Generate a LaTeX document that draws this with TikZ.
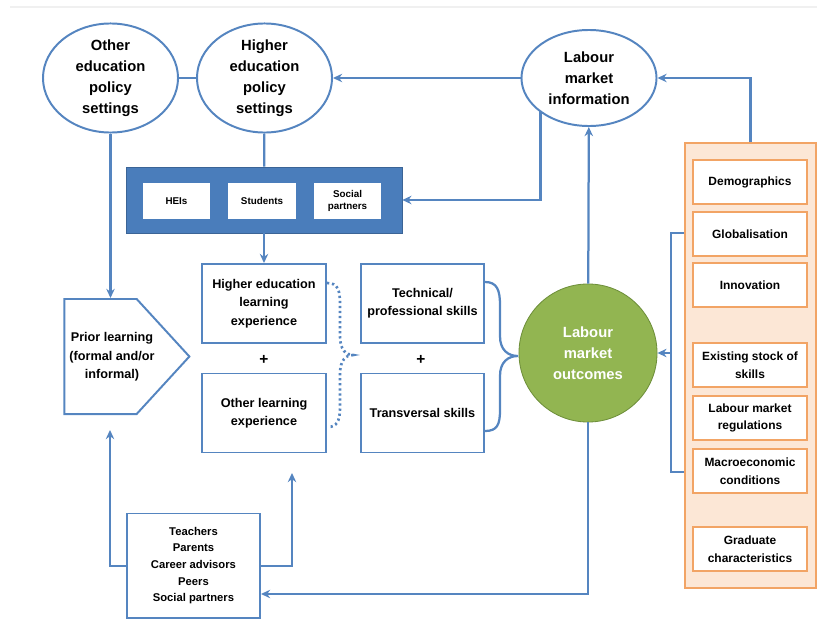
\documentclass[tikz,border=0pt]{standalone}
\usepackage{fontspec}
\setmainfont{Liberation Sans}
\usetikzlibrary{arrows.meta,shapes.geometric,shapes.symbols}

\definecolor{lineblue}{HTML}{5585C0}
\definecolor{boxblue}{HTML}{4A7DBB}
\definecolor{outgreen}{HTML}{92B551}
\definecolor{greenrim}{HTML}{6E8F3A}
\definecolor{rimorange}{HTML}{F2A465}
\definecolor{peach}{HTML}{FCE7D6}

\tikzset{
  policy/.style={ellipse, draw=lineblue, line width=1.4pt, fill=white, minimum width=3.375cm, minimum height=2.4cm, inner sep=0pt, align=center, font=\bfseries\fontsize{10.5}{15}\selectfont},
  learnbox/.style={rectangle, draw=lineblue, line width=1.4pt, fill=white, minimum width=3.1cm, minimum height=1.975cm, align=center, font=\bfseries\fontsize{9}{13}\selectfont},
  actor/.style={rectangle, fill=white, minimum width=1.675cm, minimum height=0.9cm, align=center, font=\bfseries\fontsize{7}{8.5}\selectfont},
  factor/.style={rectangle, draw=rimorange, line width=1.4pt, fill=white, minimum width=2.85cm, minimum height=1.1cm, inner sep=1pt, align=center, font=\bfseries\fontsize{8.5}{12.5}\selectfont},
  link/.style={draw=lineblue, line width=1.6pt},
  flow/.style={link, -{Stealth[length=6.5pt,width=6pt]}},
  plus/.style={font=\bfseries\fontsize{11}{13}\selectfont}
}

\begin{document}
\begin{tikzpicture}[x=0.025cm, y=-0.025cm]
  \useasboundingbox (0,0) rectangle (817,619);
  \draw[black!6, line width=0.8pt] (10,7) -- (817,7);

  % policy settings and information
  \node[policy] (otherpol) at (110.5,78) {Other\\education\\policy\\settings};
  \node[policy] (hepol) at (264.5,78) {Higher\\education\\policy\\settings};
  \node[policy] (lmi) at (589,78) {Labour\\market\\information};

  % actors
  \node[rectangle, fill=boxblue, draw=boxblue!80!black, minimum width=6.9cm, minimum height=1.65cm] (actors) at (264,200) {};
  \node[actor] (heis) at (176.5,201) {HEIs};
  \node[actor] (students) at (262,201) {Students};
  \node[actor] (social) at (347.5,201) {Social\\partners};

  % prior learning
  \node[signal, signal to=east, signal pointer angle=95, draw=lineblue, line width=1.4pt, minimum width=3.125cm, minimum height=2.875cm] (prior) at (100.5,356.5) {};
  \node[font=\bfseries\fontsize{9}{13}\selectfont, align=center] (priortext) at (112,357) {Prior learning\\(formal and/or\\informal)};

  % learning experience
  \node[learnbox] (helearn) at (264,303.5) {Higher education\\learning\\experience};
  \node[plus] (plusa) at (264,360) {+};
  \node[learnbox] (otherlearn) at (264,413) {Other learning\\experience};

  % skills
  \node[learnbox, minimum width=3.075cm] (technical) at (422.5,303.5) {Technical/\\professional skills};
  \node[plus] (plusb) at (421,360) {+};
  \node[learnbox, minimum width=3.075cm] (transversal) at (422.5,413) {Transversal skills};

  % outcomes
  \node[circle, fill=outgreen, draw=greenrim, line width=0.6pt, minimum size=3.45cm, text=white, align=center, font=\bfseries\fontsize{10.5}{15}\selectfont] (outcomes) at (588,353) {Labour\\market\\outcomes};

  % contextual factors
  \node[rectangle, fill=peach, draw=rimorange, line width=1.4pt, minimum width=3.275cm, minimum height=11.125cm] (context) at (750.5,365.5) {};
  \node[factor] (demo) at (750,182) {Demographics};
  \node[factor] (glob) at (750,234) {Globalisation};
  \node[factor] (innov) at (750,285) {Innovation};
  \node[factor] (stock) at (750,365) {Existing stock of\\skills};
  \node[factor] (regul) at (750,418) {Labour market\\regulations};
  \node[factor] (macro) at (750,471) {Macroeconomic\\conditions};
  \node[factor] (grad) at (750,549) {Graduate\\characteristics};

  % influencers
  \node[rectangle, draw=lineblue, line width=1.4pt, fill=white, minimum width=3.325cm, minimum height=2.6cm, align=center, font=\bfseries\fontsize{8}{11.8}\selectfont] (influence) at (193.5,565.5) {Teachers\\Parents\\Career advisors\\Peers\\Social partners};

  % connectors
  \draw[link] (otherpol) -- (hepol);
  \draw[flow] (lmi) -- (hepol);
  \draw[flow] (context.north) |- (lmi.east);
  \draw[flow] (lmi.south west) ++(0,-2) |- (actors.east);
  \draw[flow] (outcomes) -- (lmi);
  \draw[link] (hepol) -- (actors);
  \draw[flow] (actors) -- (helearn);
  \draw[flow] (otherpol.south) -- (prior.north -| otherpol.south);

  % braces
  \draw[link, dotted, line width=1.9pt] (327,283) .. controls (338,283) and (340,290) .. (340,305) -- (340,336)
    .. controls (340,350) and (346,355) .. (353,355) .. controls (346,355) and (340,360) .. (340,374) -- (340,408)
    .. controls (340,422) and (336,427) .. (328,427);
  \draw[link] (485,282) .. controls (497,282) and (500,290) .. (500,305) -- (500,336)
    .. controls (500,350) and (508,356) .. (518,356) .. controls (508,356) and (500,362) .. (500,376) -- (500,410)
    .. controls (500,425) and (497,431) .. (485,431);

  \draw[flow] (outcomes.south) |- (influence.east |- 0,594);
  \coordinate (bracket) at (671,353);
  \draw[link] (context.west |- glob) ++(0,-1) -| (671,233) -- (bracket) -- (671,472) -- (context.west |- 0,472);
  \draw[flow] (bracket) -- (outcomes.east);
  \coordinate (priorin) at (110,430);
  \coordinate (otherin) at (292,473);
  \draw[flow] (influence.west |- 0,566) -| (priorin);
  \draw[flow] (influence.east |- 0,566) -| (otherin);
\end{tikzpicture}
\end{document}
